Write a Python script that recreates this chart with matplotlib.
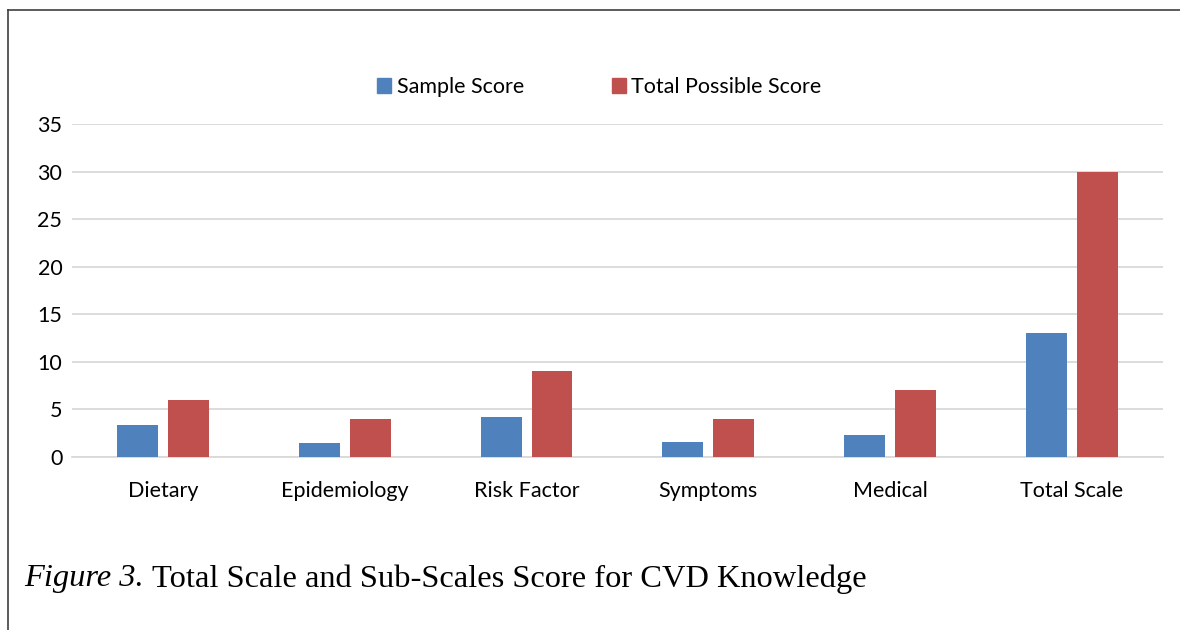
import matplotlib.pyplot as plt
import numpy as np
from matplotlib.patches import Patch

# datos del grafico
categorias = ['Dietary', 'Epidemiology', 'Risk Factor', 'Symptoms', 'Medical', 'Total Scale']
sample_score = [3.35, 1.45, 4.2, 1.6, 2.3, 13.0]
total_possible = [6, 4, 9, 4, 7, 30]
series = ['Sample Score', 'Total Possible Score']
colores = ['#4F81BD', '#C0504D']
yticks = [0, 5, 10, 15, 20, 25, 30, 35]

fuente = 'Lato'
tam = 15.5

fig = plt.figure(figsize=(11.8, 6.3), dpi=100)
ax = fig.add_axes([0.061, 0.2746, 0.9245, 0.5286])

x = np.arange(len(categorias))
ancho = 0.225
ax.bar(x - 0.14, sample_score, ancho, color=colores[0], zorder=3)
ax.bar(x + 0.14, total_possible, ancho, color=colores[1], zorder=3)

ax.set_xlim(-0.5, len(categorias) - 0.5)
ax.set_ylim(0, 35)
ax.set_yticks(yticks)
ax.set_xticks(x)
ax.set_xticklabels(categorias, family=fuente, fontsize=tam)
ax.set_yticklabels([str(t) for t in yticks], family=fuente, fontsize=tam)
ax.tick_params(length=0)
ax.tick_params(axis='x', pad=17)
ax.tick_params(axis='y', pad=7)
ax.grid(axis='y', color='#D9D9D9', linewidth=1.3, zorder=0)
for s in ['top', 'right', 'left']:
    ax.spines[s].set_visible(False)
ax.spines['bottom'].set_color('#D9D9D9')
ax.spines['bottom'].set_linewidth(1.3)

# leyenda arriba
handles = [Patch(color=c) for c in colores]
fig.legend(handles, series, loc='center', bbox_to_anchor=(0.508, 0.862), ncol=2,
           frameon=False, prop={'family': fuente, 'size': tam},
           handlelength=0.65, handleheight=0.65, handletextpad=0.25, columnspacing=4.1)

# marco de la figura (izquierda y arriba)
fig.add_artist(plt.Line2D([0.0068, 0.0068], [0, 0.984], color='#404040', linewidth=1.2))
fig.add_artist(plt.Line2D([0.0068, 1.0], [0.984, 0.984], color='#404040', linewidth=1.2))

# leyenda de la figura
t1 = fig.text(0.0203, 0.081, 'Figure 3.', family='Liberation Serif', style='italic',
              fontsize=23.4, va='center')
fig.canvas.draw()
caja = t1.get_window_extent()
x2 = (caja.x1 + 8) / fig.bbox.width
fig.text(x2, 0.081, 'Total Scale and Sub-Scales Score for CVD Knowledge',
         family='Liberation Serif', fontsize=23.4, va='center')

fig.savefig('out.png', dpi=100)
